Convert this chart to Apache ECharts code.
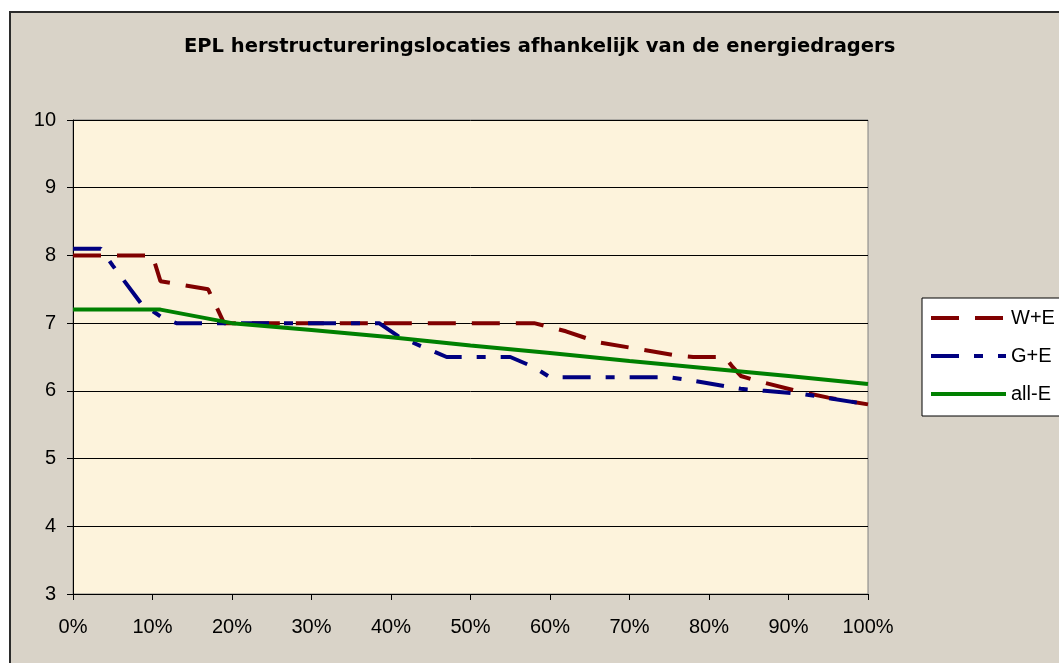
<!DOCTYPE html>
<html>
<head>
<meta charset="utf-8">
<script src="https://cdn.jsdelivr.net/npm/echarts@6/dist/echarts.min.js"></script>
<style>
  html, body { margin: 0; padding: 0; background: #ffffff; }
  #chart { width: 1059px; height: 663px; }
</style>
</head>
<body>
<div id="chart"></div>
<script>
// share of locations (0..1) and EPL value
const weX = [0, 0.10, 0.11, 0.17, 0.19, 0.58, 0.62, 0.66, 0.71, 0.76, 0.78, 0.82, 0.83, 0.84, 0.86, 0.91, 0.95, 1.0]
const weY = [8, 8, 7.62, 7.5, 7.0, 7.0, 6.88, 6.72, 6.62, 6.52, 6.5, 6.5, 6.35, 6.22, 6.15, 6.0, 5.9, 5.8]

const geX = [0, 0.035, 0.05, 0.085, 0.11, 0.13, 0.385, 0.41, 0.44, 0.47, 0.55, 0.58, 0.60, 0.75, 0.78, 0.84, 0.87, 0.92, 1.0]
const geY = [8.1, 8.1, 7.85, 7.3, 7.1, 7.0, 7.0, 6.8, 6.65, 6.5, 6.5, 6.35, 6.2, 6.2, 6.15, 6.03, 6.0, 5.95, 5.8]

const allX = [0, 0.11, 0.2, 0.3, 0.4, 0.5, 0.6, 0.7, 0.8, 0.9, 1.0]
const allY = [7.2, 7.2, 7.0, 6.9, 6.79, 6.67, 6.56, 6.44, 6.33, 6.22, 6.1]

const seriesNames = ['W+E', 'G+E', 'all-E']
const titleText = 'EPL herstructureringslocaties afhankelijk van de energiedragers'

const pairs = (xs, ys) => xs.map((x, i) => [x, ys[i]])

const chart = echarts.init(document.getElementById('chart'))
const font = 'Liberation Sans, Arial, sans-serif'

chart.setOption({
  animation: false,
  textStyle: { fontFamily: font },
  graphic: [
    {
      type: 'rect',
      z: -10,
      shape: { x: 10, y: 12, width: 1100, height: 700 },
      style: { fill: '#d9d3c8', stroke: '#2b2b2b', lineWidth: 2 }
    }
  ],
  title: {
    text: titleText,
    left: 179,
    top: 32,
    textStyle: { fontFamily: 'DejaVu Sans', fontSize: 19.5, fontWeight: 'bold', color: '#000' }
  },
  grid: {
    left: 73,
    top: 120,
    right: 191,
    bottom: 69,
    show: true,
    backgroundColor: '#fdf3dc',
    borderColor: '#808080',
    borderWidth: 1
  },
  legend: {
    orient: 'vertical',
    left: 922,
    top: 298,
    data: seriesNames,
    backgroundColor: '#ffffff',
    borderColor: '#000000',
    borderWidth: 1,
    borderRadius: 0,
    padding: [10, 30, 12, 7],
    itemWidth: 75,
    itemHeight: 14,
    itemGap: 18,
    itemStyle: { opacity: 0 },
    lineStyle: { width: 4 },
    textStyle: { fontSize: 20, color: '#000', fontFamily: font }
  },
  xAxis: {
    type: 'value',
    min: 0,
    max: 1,
    interval: 0.1,
    axisLine: { lineStyle: { color: '#000', width: 1 } },
    axisTick: { show: true, length: 6, lineStyle: { color: '#000' } },
    axisLabel: {
      fontSize: 20,
      color: '#000',
      margin: 23,
      formatter: v => Math.round(v * 100) + '%'
    },
    splitLine: { show: false }
  },
  yAxis: {
    type: 'value',
    min: 3,
    max: 10,
    interval: 1,
    axisLine: { show: true, lineStyle: { color: '#000', width: 1 } },
    axisTick: { show: true, length: 6, lineStyle: { color: '#000' } },
    axisLabel: { fontSize: 20, color: '#000', margin: 17 },
    splitLine: { show: true, lineStyle: { color: '#000', width: 1 } }
  },
  series: [
    {
      name: seriesNames[0],
      type: 'line',
      symbol: 'none',
      data: pairs(weX, weY),
      lineStyle: { color: '#800000', width: 4, type: [28, 16] },
      itemStyle: { color: '#800000' }
    },
    {
      name: seriesNames[1],
      type: 'line',
      symbol: 'none',
      data: pairs(geX, geY),
      lineStyle: { color: '#000080', width: 4, type: [28, 15, 9, 15] },
      itemStyle: { color: '#000080' }
    },
    {
      name: seriesNames[2],
      type: 'line',
      symbol: 'none',
      data: pairs(allX, allY),
      lineStyle: { color: '#008000', width: 4 },
      itemStyle: { color: '#008000' }
    }
  ]
})
</script>
</body>
</html>
